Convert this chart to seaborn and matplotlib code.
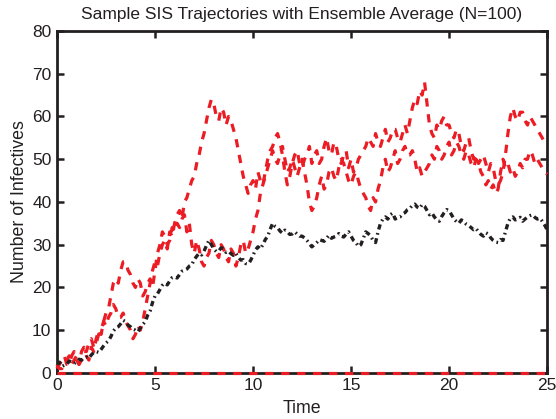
import numpy as np
import pandas as pd
import matplotlib
matplotlib.use("Agg")
import matplotlib.pyplot as plt
import seaborn as sns

# Time grid for all curves (step 0.125)
time = np.arange(0, 25.0001, 0.125)

# Stochastic SIS run that climbs early and then settles in the 40-55 band
traj_a = [1, 2, 3, 4, 2, 2, 4, 5, 3, 2, 5, 6, 4, 3, 6, 5, 8, 10, 9, 12,
          14, 15, 18, 21, 22, 21, 24, 26, 26, 24, 23, 21, 20, 22, 21, 18, 19, 21, 22, 20,
          24, 28, 30, 33, 32, 30, 31, 34, 33, 35, 34, 36, 37, 33, 35, 30, 28, 31, 29, 26,
          25, 27, 28, 31, 30, 28, 27, 30, 29, 27, 26, 29, 28, 25, 27, 30, 31, 28, 29, 31,
          33, 36, 38, 42, 44, 46, 48, 50, 52, 50, 49, 51, 53, 50, 47, 48, 50, 48, 46, 48,
          50, 47, 44, 40, 38, 39, 41, 44, 46, 43, 44, 47, 48, 46, 45, 48, 50, 49, 47, 45,
          44, 46, 47, 45, 43, 42, 41, 39, 38, 41, 40, 43, 45, 48, 50, 47, 48, 50, 52, 49,
          50, 52, 53, 51, 51, 52, 50, 47, 48, 46, 47, 48, 49, 51, 50, 53, 52, 50, 51, 53,
          54, 51, 52, 54, 53, 51, 50, 52, 51, 49, 48, 50, 49, 47, 46, 44, 45, 43, 44, 42,
          43, 47, 50, 48, 49, 47, 48, 46, 47, 49, 48, 50, 50, 52, 51, 49, 50, 49, 48, 47,
          46.5]

# Stochastic SIS run with the large overshoot near t = 8
traj_b = [2, 1, 1, 2, 3, 4, 2, 3, 4, 2, 3, 5, 5, 7, 8, 6, 7, 9, 10, 12,
          11, 13, 14, 16, 15, 13, 13, 14, 12, 11, 10, 8, 9, 11, 10, 12, 15, 18, 21, 24,
          26, 25, 28, 30, 31, 29, 33, 32, 35, 37, 38, 36, 40, 41, 43, 45, 46, 49, 51, 54,
          56, 59, 62, 64, 63, 60, 59, 62, 61, 58, 60, 59, 57, 55, 52, 49, 46, 44, 42, 44,
          45, 43, 47, 45, 44, 47, 50, 52, 53, 55, 56, 54, 51, 47, 44, 46, 49, 51, 52, 49,
          48, 50, 51, 53, 49, 51, 52, 49, 50, 53, 55, 52, 51, 54, 53, 50, 49, 51, 52, 48,
          50, 47, 48, 50, 51, 52, 53, 55, 54, 53, 56, 54, 53, 55, 57, 54, 55, 57, 57, 55,
          54, 56, 58, 56, 59, 62, 64, 63, 66, 65, 68, 63, 58, 56, 55, 58, 57, 59, 60, 58,
          58, 56, 55, 57, 56, 53, 52, 54, 55, 52, 50, 51, 49, 50, 51, 49, 47, 49, 48, 45,
          44, 45, 47, 51, 56, 60, 62, 60, 59, 61, 61, 59, 58, 60, 59, 58, 57, 56, 55, 54,
          53.5]

# Run that dies out immediately
traj_c = [0] * len(time)

# Ensemble average over N = 100 runs
ensemble = [2, 2.5, 1.5, 1.8, 2, 2.8, 2.5, 2.2, 2.6, 3.2, 3, 3.5, 3.7, 3.4, 4.2, 4.8, 5, 4.8, 5.5, 6.3,
            7, 7.5, 8.5, 9.8, 10.5, 10.8, 11.5, 12.3, 12, 11.2, 10.8, 10.2, 10, 9.6, 10.5, 11.3, 12, 13.5, 14.5, 16.5,
            18, 18.5, 19.5, 20.5, 21, 20.6, 21.5, 22.3, 22.5, 22.2, 23, 23.8, 24, 24.3, 25, 25.3, 26.5, 27.3, 28, 27.6,
            28.5, 29.8, 31, 30, 29, 28.4, 28.5, 29.3, 29, 28.2, 28.5, 27.9, 27.5, 28, 27, 26.4, 26.5, 25.6, 25.5, 26.3,
            27.5, 28.8, 29.5, 29, 30, 31.2, 32, 33.6, 35, 34.3, 34, 33.2, 32.7, 33.4, 33, 32.4, 32.5, 33, 32.5, 32,
            32, 31.6, 31, 30.2, 29.5, 30, 30.5, 31.2, 31, 30.8, 31.5, 32.2, 31.5, 31.8, 32, 32.6, 32, 31.8, 32.5, 33,
            32, 31, 30.5, 29.6, 30, 31.5, 33, 32.6, 32, 31, 30.5, 33, 35, 36, 36.5, 36, 37, 37.4, 36, 36.4,
            36.5, 37.2, 37.5, 38.2, 38.5, 39.2, 39.5, 38.8, 38.5, 39.4, 39, 38, 37, 37.4, 36.5, 35.8, 35.5, 36.6, 37.5, 38.2,
            38, 37, 36, 35.4, 35, 35.8, 35.5, 34.8, 34.5, 34, 33.5, 33.8, 33, 32.4, 32, 32.8, 32.5, 31.6, 31, 30.6,
            30.5, 31.2, 31, 33, 35, 36.2, 36.5, 35.8, 36, 36.4, 35.5, 36, 36.5, 36.8, 37, 36.4, 36, 36.2, 35.5, 34.6,
            33.5]

sns.set_style("ticks")
plt.rcParams["font.family"] = ["Liberation Sans", "DejaVu Sans"]

fig = plt.figure(figsize=(5.56, 4.19), dpi=100)
ax = fig.add_axes([0.1025, 0.11, 0.8815, 0.816])

red = "#ec1c24"
black = "#231f20"

for traj in (traj_a, traj_b, traj_c):
    sns.lineplot(x=time, y=traj, ax=ax, color=red, linewidth=2.3,
                 dashes=False, estimator=None, clip_on=False, zorder=3)
for line in ax.get_lines():
    line.set_dashes((2.6, 2.4))

sns.lineplot(x=time, y=ensemble, ax=ax, color=black, linewidth=2.4,
             estimator=None, zorder=4)
ax.get_lines()[-1].set_dashes((1.6, 1.1, 0.5, 1.1))

ax.set_xlim(0, 25)
ax.set_ylim(0, 80)
ax.set_xticks(np.arange(0, 26, 5))
ax.set_yticks(np.arange(0, 81, 10))

for side in ("top", "right", "bottom", "left"):
    ax.spines[side].set_visible(True)
    ax.spines[side].set_linewidth(2.0)
    ax.spines[side].set_color("#231f20")

ax.tick_params(direction="in", length=5, width=1.8, top=True, right=True,
               labelsize=12.5, colors="#231f20", pad=4)

ax.set_title("Sample SIS Trajectories with Ensemble Average (N=100)",
             fontsize=12.5, color="#231f20", pad=9)
ax.set_xlabel("Time", fontsize=12.8, color="#231f20", labelpad=5)
ax.set_ylabel("Number of Infectives", fontsize=12.8, color="#231f20", labelpad=3)

fig.savefig("out.png", dpi=100)
